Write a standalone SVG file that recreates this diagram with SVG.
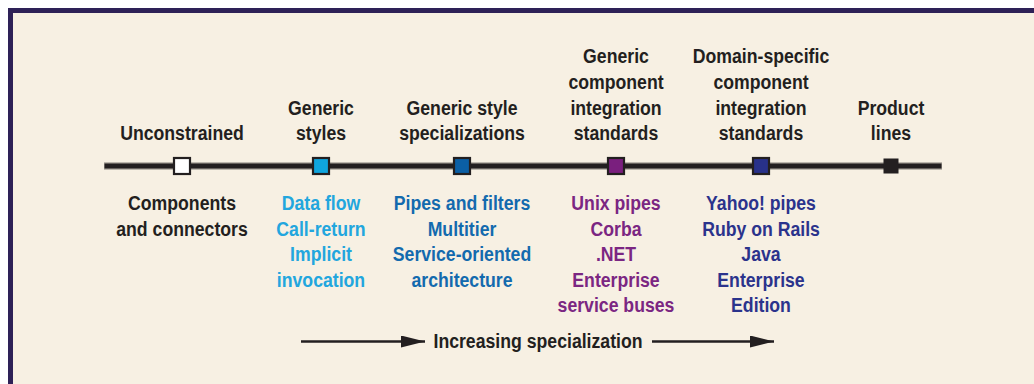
<svg xmlns="http://www.w3.org/2000/svg" width="1034" height="384" viewBox="0 0 1034 384">
<defs>
<style>
.t{font-family:"Liberation Sans",Arial,sans-serif;font-weight:bold;font-size:20.5px;text-anchor:middle;fill:#231f20}
.cy{fill:#22a6de}.bl{fill:#136aae}.pu{fill:#7b2682}.nv{fill:#2b338c}
.mk{stroke:#231f20;stroke-width:2.2}
</style>
<marker id="ah" viewBox="0 0 24 12" refX="24" refY="6" markerWidth="24" markerHeight="12" markerUnits="userSpaceOnUse" orient="auto">
<path d="M0,0 L24,6 L0,12 Z" fill="#231f20"/>
</marker>
</defs>
<rect x="0" y="0" width="1034" height="384" fill="#ffffff"/>
<rect x="10.5" y="10.5" width="1040" height="390" fill="#f7f0e3" stroke="#2e2157" stroke-width="5"/>
<g id="connectors">
<line x1="104" y1="166" x2="942" y2="166" stroke="#aaa49b" stroke-width="7.5"/>
<line x1="104.5" y1="166" x2="941.5" y2="166" stroke="#231f20" stroke-width="5"/>
<line x1="301" y1="341.5" x2="425" y2="341.5" stroke="#231f20" stroke-width="2.5" marker-end="url(#ah)"/>
<line x1="652" y1="341.5" x2="774" y2="341.5" stroke="#231f20" stroke-width="2.5" marker-end="url(#ah)"/>
</g>
<g id="unconstrained" transform="translate(182 0)">
<rect class="mk" x="-8" y="158" width="16" height="16" fill="#ffffff"/>
<g transform="scale(0.862 1)">
<text class="t" x="0" y="140.5">Unconstrained</text>
<text class="t" x="0" y="210.5">Components</text>
<text class="t" x="0" y="236">and connectors</text>
</g>
</g>
<g id="generic-styles" transform="translate(321 0)">
<rect class="mk" x="-8" y="158" width="16" height="16" fill="#0fa5de"/>
<g transform="scale(0.862 1)">
<text class="t" x="0" y="115">Generic</text>
<text class="t" x="0" y="140.5">styles</text>
<text class="t cy" x="0" y="210.5">Data flow</text>
<text class="t cy" x="0" y="236">Call-return</text>
<text class="t cy" x="0" y="261.5">Implicit</text>
<text class="t cy" x="0" y="287">invocation</text>
</g>
</g>
<g id="generic-style-specializations" transform="translate(462 0)">
<rect class="mk" x="-8" y="158" width="16" height="16" fill="#0b5fa5"/>
<g transform="scale(0.862 1)">
<text class="t" x="0" y="115">Generic style</text>
<text class="t" x="0" y="140.5">specializations</text>
<text class="t bl" x="0" y="210.5">Pipes and filters</text>
<text class="t bl" x="0" y="236">Multitier</text>
<text class="t bl" x="0" y="261.5">Service-oriented</text>
<text class="t bl" x="0" y="287">architecture</text>
</g>
</g>
<g id="generic-component-integration-standards" transform="translate(616 0)">
<rect class="mk" x="-8" y="158" width="16" height="16" fill="#7a1f7e"/>
<g transform="scale(0.862 1)">
<text class="t" x="0" y="63.5">Generic</text>
<text class="t" x="0" y="89">component</text>
<text class="t" x="0" y="115">integration</text>
<text class="t" x="0" y="140.5">standards</text>
<text class="t pu" x="0" y="210.5">Unix pipes</text>
<text class="t pu" x="0" y="236">Corba</text>
<text class="t pu" x="0" y="261.5">.NET</text>
<text class="t pu" x="0" y="287">Enterprise</text>
<text class="t pu" x="0" y="312.5">service buses</text>
</g>
</g>
<g id="domain-specific-component-integration-standards" transform="translate(761 0)">
<rect class="mk" x="-8" y="158" width="16" height="16" fill="#28318a"/>
<g transform="scale(0.862 1)">
<text class="t" x="0" y="63.5">Domain-specific</text>
<text class="t" x="0" y="89">component</text>
<text class="t" x="0" y="115">integration</text>
<text class="t" x="0" y="140.5">standards</text>
<text class="t nv" x="0" y="210.5">Yahoo! pipes</text>
<text class="t nv" x="0" y="236">Ruby on Rails</text>
<text class="t nv" x="0" y="261.5">Java</text>
<text class="t nv" x="0" y="287">Enterprise</text>
<text class="t nv" x="0" y="312.5">Edition</text>
</g>
</g>
<g id="product-lines" transform="translate(891 0)">
<rect x="-7.5" y="158.5" width="15" height="15" fill="#231f20"/>
<g transform="scale(0.862 1)">
<text class="t" x="0" y="115">Product</text>
<text class="t" x="0" y="140.5">lines</text>
</g>
</g>
<g id="increasing-specialization" transform="translate(538 0)">
<g transform="scale(0.862 1)">
<text class="t" x="0" y="348.5">Increasing specialization</text>
</g>
</g>
</svg>
